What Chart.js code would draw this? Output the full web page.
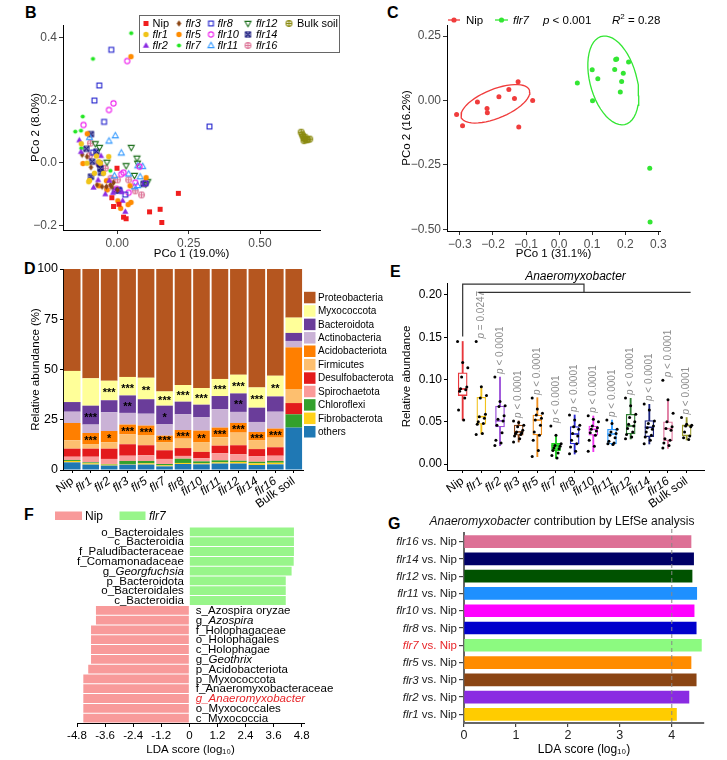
<!DOCTYPE html>
<html><head><meta charset="utf-8">
<script src="https://cdn.jsdelivr.net/npm/chart.js@4.4.1/dist/chart.umd.min.js"></script>
<style>
html,body{margin:0;padding:0;background:#fff;}
body{width:727px;height:760px;position:relative;overflow:hidden;font-family:"Liberation Sans",Arial,sans-serif;}
canvas{position:absolute;}
.lt{position:absolute;font-weight:bold;font-size:16px;color:#000;line-height:16px;}
</style></head><body>
<div class="lt" style="left:25px;top:5px">B</div>
<div class="lt" style="left:387px;top:5px">C</div>
<div class="lt" style="left:24px;top:261px">D</div>
<div class="lt" style="left:390px;top:264px">E</div>
<div class="lt" style="left:24px;top:507px">F</div>
<div class="lt" style="left:388px;top:516px">G</div>
<canvas id="cB" width="360" height="265" style="left:0;top:0"></canvas>
<canvas id="cC" width="367" height="265" style="left:360px;top:0"></canvas>
<canvas id="cD" width="400" height="250" style="left:0;top:258px"></canvas>
<canvas id="cE" width="367" height="250" style="left:360px;top:258px"></canvas>
<canvas id="cF" width="360" height="255" style="left:0;top:505px"></canvas>
<canvas id="cG" width="367" height="255" style="left:360px;top:505px"></canvas>
<script>
// ---------------- DATA ----------------
// Panel B: PCoA (PCo1, PCo2)
const bNip  = [[0.214,-0.097],[0.113,-0.156],[0.150,-0.148],[0.156,-0.190],[-0.001,-0.017],[-0.019,-0.111],[-0.013,-0.139],[0.006,-0.132],[0.022,-0.173],[0.031,-0.178]];
const bFlr1 = [[-0.080,-0.033],[-0.097,-0.056],[-0.065,0.004],[-0.100,-0.060],[-0.073,0.022],[-0.048,-0.033],[-0.106,-0.001],[-0.126,0.061],[-0.059,-0.001],[-0.030,0.020]];
const bFlr2 = [[-0.133,0.073],[-0.127,0.036],[-0.057,0.023],[-0.067,-0.054],[-0.083,-0.078],[-0.042,-0.099],[-0.028,-0.056],[0.016,-0.092],[0.019,-0.120],[0.028,-0.155],[-0.015,-0.095]];
const bFlr3 = [[-0.123,0.026],[-0.106,0.020],[-0.092,-0.014],[-0.071,-0.070],[-0.053,-0.076],[-0.038,-0.076],[-0.024,-0.070],[-0.013,-0.063],[-0.019,-0.076],[0.001,-0.086]];
const bFlr5 = [[0.048,0.339],[-0.105,0.093],[-0.120,-0.002],[-0.064,-0.073],[-0.036,-0.086],[-0.038,-0.057],[0.002,-0.121],[0.012,-0.145],[0.038,-0.133],[0.048,-0.126],[0.101,-0.047],[0.045,-0.073]];
const bFlr7 = [[0.049,0.414],[-0.085,0.332],[-0.121,0.148],[-0.147,0.100],[-0.127,0.103],[-0.126,0.047],[-0.024,-0.025]];
const bFlr8 = [[-0.021,0.361],[-0.063,0.247],[-0.080,0.199],[-0.046,0.131],[0.323,0.116],[-0.085,0.033],[0.008,-0.088],[0.028,-0.101],[0.099,-0.065]];
const bFlr10= [[0.035,0.325],[-0.013,0.190],[-0.029,0.169],[-0.118,0.121],[-0.002,-0.083],[0.014,-0.036],[0.022,-0.031],[0.040,-0.095],[0.063,-0.063],[0.078,-0.012],[0.098,-0.065]];
const bFlr11= [[-0.097,0.082],[-0.029,0.070],[-0.007,0.087],[0.014,0.032],[-0.010,-0.041],[0.040,-0.035],[0.060,-0.076],[0.080,-0.044],[0.089,-0.011],[0.072,-0.009],[0.071,-0.072]];
const bFlr12= [[-0.077,0.061],[-0.062,0.049],[-0.036,0.002],[0.049,0.049],[0.031,-0.009],[0.069,0.015],[0.071,-0.001],[0.060,-0.040],[0.107,-0.060],[0.100,-0.067]];
const bFlr14= [[-0.092,0.092],[-0.108,0.045],[-0.073,0.036],[-0.088,0.004],[-0.062,-0.003],[-0.059,-0.017],[-0.057,-0.031],[-0.092,-0.044],[-0.007,-0.088],[0.092,-0.067],[0.005,-0.086]];
const bFlr16= [[-0.097,0.023],[-0.094,0.063],[-0.065,-0.003],[-0.042,-0.017],[-0.034,-0.081],[0.001,-0.054],[-0.022,-0.049],[0.040,-0.054],[0.063,-0.089],[0.085,-0.102]];
const bBulk = [[0.644,0.098],[0.648,0.090],[0.651,0.084],[0.655,0.077],[0.654,0.071],[0.661,0.074],[0.667,0.074],[0.674,0.076],[0.658,0.082]];
const bXTicks = [0, 0.25, 0.5];
const bYTicks = [-0.2, 0, 0.2, 0.4];

// Panel C: PCoA Nip vs flr7
const cNip  = [[-0.310,-0.055],[-0.292,-0.098],[-0.247,-0.006],[-0.218,-0.031],[-0.217,-0.048],[-0.182,0.014],[-0.152,0.043],[-0.135,0.008],[-0.124,0.073],[-0.122,-0.103],[-0.080,0.000]];
const cFlr7 = [[0.055,0.068],[0.100,0.119],[0.101,-0.001],[0.117,0.084],[0.168,0.120],[0.171,0.159],[0.174,0.161],[0.185,0.033],[0.189,0.074],[0.194,0.106],[0.210,0.149],[0.274,-0.263],[0.275,-0.472]];
const cXTicks = [-0.3,-0.2,-0.1,0,0.1,0.2,0.3];
const cYTicks = [-0.5,-0.25,0,0.25];
const cEllipseLevel = 0.68;

// Panel D: relative abundance (%) by phylum
const dCats = ['Nip','flr1','flr2','flr3','flr5','flr7','flr8','flr10','flr11','flr12','flr14','flr16','Bulk soil'];
const dOthers   = [3.8,2.7,2.2,2.7,2.7,1.8,3.0,2.8,3.2,3.2,2.5,2.8,21.1];
const dFibro    = [0.7,0.6,0.5,0.3,0.6,0.5,0.5,0.5,0.6,0.8,0.8,0.8,0];
const dChloro   = [0.5,0.5,0.3,1.5,1.2,0.7,2.1,1.0,1.0,0.6,0.8,0.9,6.6];
const dSpiro    = [1.6,2.8,2.5,2.6,2.8,2.5,1.4,1.5,3.5,3.2,2.7,2.6,0];
const dDesulfo  = [4.0,4.0,5.1,5.7,5.0,4.3,3.9,3.2,3.8,4.5,3.6,4.2,5.6];
const dFirmi    = [4.2,2.3,3.2,4.9,5.1,4.1,4.7,4.9,4.2,6.3,4.5,4.8,7.0];
const dAcido    = [8.6,5.5,5.6,4.9,4.7,3.2,4.3,5.7,4.8,4.8,4.0,4.5,20.7];
const dActino   = [5.6,4.2,9.3,5.8,5.9,5.6,7.8,6.6,9.1,5.5,5.0,8.4,3.2];
const dBacter   = [4.8,9.4,6.0,8.7,7.2,9.3,6.3,6.3,6.6,9.2,7.1,7.6,4.0];
const dMyxo     = [15.5,13.6,9.7,9.2,10.7,7.1,8.3,8.3,8.5,9.3,10.1,10.3,7.6];
const dProteo   = [50.7,54.4,55.6,53.7,54.1,60.9,57.7,59.2,54.7,52.6,58.9,53.1,24.2];
const dStarMyxo  = ['','','***','***','**','***','***','***','***','***','***','**',''];
const dStarBact  = ['','***','','**','','*','','','','**','','',''];
const dStarAcido = ['','***','*','***','***','***','***','**','***','***','***','***',''];

// Panel E: Anaeromyxobacter relative abundance
const eCats = dCats;
const eQ1  = [0.081,0.047,0.0438,0.034,0.0343,0.0158,0.0237,0.034,0.0237,0.0355,0.0323,0.0276,0.0335];
const eMed = [0.0888,0.056,0.051,0.038,0.052,0.0217,0.0355,0.041,0.0355,0.045,0.0434,0.0418,0.0454];
const eQ3  = [0.108,0.079,0.0686,0.046,0.058,0.0245,0.0442,0.045,0.041,0.0588,0.0513,0.050,0.046];
const eLo  = [0.052,0.0355,0.0217,0.026,0.0087,0.0067,0.0118,0.0146,0.0225,0.0296,0.0237,0.0185,0.0284];
const eHi  = [0.145,0.0915,0.103,0.051,0.0785,0.034,0.058,0.0568,0.052,0.0777,0.0706,0.0765,0.055];
const ePts = [
 [0.145,0.120,0.114,0.103,0.091,0.089,0.088,0.086,0.078,0.064,0.052],
 [0.145,0.0915,0.081,0.078,0.059,0.056,0.054,0.050,0.048,0.047,0.036,0.035],
 [0.103,0.074,0.069,0.068,0.057,0.053,0.051,0.046,0.037,0.028,0.025,0.022],
 [0.051,0.049,0.046,0.044,0.040,0.038,0.037,0.036,0.035,0.033,0.030,0.026],
 [0.078,0.065,0.060,0.058,0.054,0.052,0.046,0.038,0.034,0.028,0.016,0.009],
 [0.045,0.034,0.024,0.022,0.021,0.019,0.018,0.016,0.013,0.010,0.007],
 [0.058,0.052,0.046,0.044,0.041,0.036,0.033,0.028,0.024,0.020,0.015,0.012],
 [0.057,0.053,0.050,0.045,0.043,0.041,0.039,0.037,0.034,0.028,0.021,0.015],
 [0.052,0.048,0.041,0.038,0.036,0.034,0.031,0.027,0.025,0.024,0.023],
 [0.078,0.069,0.059,0.055,0.050,0.047,0.045,0.042,0.038,0.035,0.032,0.030],
 [0.071,0.064,0.051,0.048,0.045,0.043,0.041,0.038,0.034,0.032,0.028,0.024],
 [0.099,0.076,0.060,0.050,0.044,0.042,0.040,0.030,0.028,0.025,0.022,0.019],
 [0.055,0.047,0.046,0.045,0.044,0.038,0.033,0.031,0.029]
];
const eP = ['','p = 0.0247','p < 0.0001','p < 0.0001','p < 0.0001','p < 0.0001','p < 0.0001','p < 0.0001','p < 0.0001','p < 0.0001','p < 0.0001','p < 0.0001','p < 0.0001'];
const eYTicks = [0,0.05,0.10,0.15,0.20];

// Panel F: LEfSe LDA scores (Nip vs flr7)
const fLabels = ['o_Bacteroidales','c_Bacteroidia','f_Paludibacteraceae','f_Comamonadaceae','g_Georgfuchsia','p_Bacteroidota','o_Bacteroidales','c_Bacteroidia',
  's_Azospira oryzae','g_Azospira','f_Holophagaceae','o_Holophagales','c_Holophagae','g_Geothrix','p_Acidobacteriota','p_Myxococcota','f_Anaeromyxobacteraceae','g_Anaeromyxobacter','o_Myxococcales','c_Myxococcia'];
const fVals = [4.47,4.47,4.47,4.46,4.37,4.12,4.12,4.12,-3.99,-3.99,-4.2,-4.2,-4.2,-4.2,-4.32,-4.53,-4.53,-4.53,-4.53,-4.53];
const fItalic = [0,0,0,0,1,0,0,0,0,1,0,0,0,1,0,0,0,1,0,0];
const fHighlight = 'g_Anaeromyxobacter';
const fTicks = [-4.8,-3.6,-2.4,-1.2,0,1.2,2.4,3.6,4.8];

// Panel G: Anaeromyxobacter LDA by mutant
const gMut  = ['flr16','flr14','flr12','flr11','flr10','flr8','flr7','flr5','flr3','flr2','flr1'];
const gVals = [4.37,4.42,4.39,4.48,4.43,4.47,4.57,4.37,4.47,4.33,4.09];
const gColors = ['#dd7096','#000066','#005200','#1e90ff','#ff00ff','#0000cc','#8cfa80','#ff8c00','#8b4513','#8a2be2','#ffcc00'];
const gThreshold = 4;

// ---------------- HELPERS ----------------
const FF = '"Liberation Sans", Arial, sans-serif';
Chart.defaults.font.family = FF;
Chart.defaults.color = '#000';
const fmt = (v,d) => (v < 0 ? '\u2212' + Math.abs(v).toFixed(d) : Math.abs(v).toFixed(d));
const base = {animation:false, responsive:false, events:[], devicePixelRatio:1,
  plugins:{legend:{display:false}, tooltip:{enabled:false}}};

function marker(shape, color){
  const s = 11, c = document.createElement('canvas'); c.width = s; c.height = s;
  const g = c.getContext('2d'), m = s/2;
  g.fillStyle = color; g.strokeStyle = color; g.lineWidth = 1.1;
  g.beginPath();
  switch(shape){
    case 'sq': g.fillRect(m-2.5,m-2.5,5,5); break;
    case 'circ': g.arc(m,m,2.7,0,Math.PI*2); g.fill(); break;
    case 'dot': g.arc(m,m,2.1,0,Math.PI*2); g.fill(); break;
    case 'tri': g.moveTo(m,m-3.3); g.lineTo(m+3.1,m+2.2); g.lineTo(m-3.1,m+2.2); g.closePath(); g.fill(); break;
    case 'diam': g.moveTo(m,m-3.2); g.lineTo(m+2.3,m); g.lineTo(m,m+3.2); g.lineTo(m-2.3,m); g.closePath(); g.fill(); break;
    case 'osq': g.strokeRect(m-2.4,m-2.4,4.8,4.8); break;
    case 'ocirc': g.arc(m,m,2.6,0,Math.PI*2); g.stroke(); break;
    case 'otri': g.moveTo(m,m-3.2); g.lineTo(m+3,m+2.1); g.lineTo(m-3,m+2.1); g.closePath(); g.stroke(); break;
    case 'oitri': g.moveTo(m,m+3.2); g.lineTo(m+3,m-2.1); g.lineTo(m-3,m-2.1); g.closePath(); g.stroke(); break;
    case 'sqx': g.strokeRect(m-2.5,m-2.5,5,5); g.moveTo(m-2.5,m-2.5); g.lineTo(m+2.5,m+2.5); g.moveTo(m+2.5,m-2.5); g.lineTo(m-2.5,m+2.5); g.stroke(); break;
    case 'cplus': g.arc(m,m,2.9,0,Math.PI*2); g.moveTo(m-2.9,m); g.lineTo(m+2.9,m); g.moveTo(m,m-2.9); g.lineTo(m,m+2.9); g.stroke(); break;
  }
  return c;
}
function axisCommon(extra){
  return Object.assign({
    grid:{display:true, drawOnChartArea:false, drawTicks:true, tickLength:4, color:'#333'},
    border:{display:true, color:'#000', width:1}
  }, extra);
}

// ---------------- PANEL B ----------------
const bGroups = [
  {label:'Nip',data:bNip,shape:'sq',color:'#f01e1e',it:false},
  {label:'flr1',data:bFlr1,shape:'circ',color:'#f0c419',it:true},
  {label:'flr2',data:bFlr2,shape:'tri',color:'#8b2be2',it:true},
  {label:'flr3',data:bFlr3,shape:'diam',color:'#8b4513',it:true},
  {label:'flr5',data:bFlr5,shape:'circ',color:'#ff8c00',it:true},
  {label:'flr7',data:bFlr7,shape:'dot',color:'#22e622',it:true},
  {label:'flr8',data:bFlr8,shape:'osq',color:'#2323cc',it:true},
  {label:'flr10',data:bFlr10,shape:'ocirc',color:'#ee22ee',it:true},
  {label:'flr11',data:bFlr11,shape:'otri',color:'#3399ff',it:true},
  {label:'flr12',data:bFlr12,shape:'oitri',color:'#1a6e1a',it:true},
  {label:'flr14',data:bFlr14,shape:'sqx',color:'#14147a',it:true},
  {label:'flr16',data:bFlr16,shape:'cplus',color:'#dd7799',it:true},
  {label:'Bulk soil',data:bBulk,shape:'cplus',color:'#8a8a10',it:false}
];
const bLegend = {id:'bLegend', afterDraw(chart){
  const ctx = chart.ctx; ctx.save();
  ctx.fillStyle = '#fff'; ctx.fillRect(139.5,15.5,200,37);
  ctx.strokeStyle = '#666'; ctx.lineWidth = 1; ctx.strokeRect(139.5,15.5,200,37);
  const colX = [146,179,211,248,289], rowY = [23.5,34.5,45.5];
  chart.data.datasets.forEach((ds,i) => {
    const c = Math.floor(i/3), r = i%3, img = ds.pointStyle;
    ctx.drawImage(img, colX[c]-img.width/2, rowY[r]-img.height/2);
    ctx.font = (ds._it ? 'italic ' : '') + '11px ' + FF;
    ctx.fillStyle = '#000'; ctx.textBaseline = 'middle'; ctx.textAlign = 'left';
    ctx.fillText(ds.label, colX[c] + (c >= 3 ? 8 : 6.5), rowY[r] + 0.5);
  });
  ctx.restore();
}};
new Chart(document.getElementById('cB'), {
  type:'scatter',
  data:{datasets: bGroups.map(g => ({label:g.label, _it:g.it, data:g.data.map(p => ({x:p[0], y:p[1]})),
     pointStyle:marker(g.shape,g.color), pointRadius:5}))},
  options: Object.assign({}, base, {
    layout:{padding:{left:25,right:40,top:25,bottom:0}},
    scales:{
      x: axisCommon({type:'linear', min:-0.19, max:0.71,
        afterBuildTicks:s => { s.ticks = bXTicks.map(v => ({value:v})); },
        afterFit:s => { s.height = 35; },
        ticks:{callback:v => fmt(v,2), color:'#4d4d4d', font:{size:12}, padding:2},
        title:{display:true, text:'PCo 1 (19.0%)', font:{size:11.5}, color:'#000', padding:{top:0,bottom:4}}}),
      y: axisCommon({type:'linear', min:-0.214, max:0.44,
        afterBuildTicks:s => { s.ticks = bYTicks.map(v => ({value:v})); },
        afterFit:s => { s.width = 38; },
        ticks:{callback:v => fmt(v,1), color:'#4d4d4d', font:{size:12}, padding:2},
        title:{display:true, text:'PCo 2 (8.0%)', font:{size:11.5}, color:'#000', padding:{top:4,bottom:0}}})
    }
  }),
  plugins:[bLegend]
});

// ---------------- PANEL C ----------------
function trobEllipse(pts, level){
  const n = pts.length, nu = 5, p = 2;
  let w = new Array(n).fill(1);
  let loc = [0,0]; pts.forEach(q => { loc[0] += q[0]/n; loc[1] += q[1]/n; });
  let X = [];
  for (let it = 0; it < 25; it++){
    const w0 = w.slice();
    X = pts.map(q => [q[0]-loc[0], q[1]-loc[1]]);
    const sw = w.reduce((a,b) => a+b, 0);
    let a = 0, b = 0, c = 0;
    X.forEach((v,i) => { a += w[i]/sw*v[0]*v[0]; b += w[i]/sw*v[0]*v[1]; c += w[i]/sw*v[1]*v[1]; });
    const det = a*c - b*b;
    w = X.map(v => (nu+p)/(nu + (c*v[0]*v[0] - 2*b*v[0]*v[1] + a*v[1]*v[1])/det));
    const sw2 = w.reduce((s,x) => s+x, 0);
    loc = [0,0]; pts.forEach((q,i) => { loc[0] += w[i]*q[0]/sw2; loc[1] += w[i]*q[1]/sw2; });
    if (w.every((x,i) => Math.abs(x - w0[i]) < 0.01)) break;
  }
  let a = 0, b = 0, c = 0;
  X.forEach((v,i) => { a += w[i]*v[0]*v[0]/n; b += w[i]*v[0]*v[1]/n; c += w[i]*v[1]*v[1]/n; });
  const dfd = n - 1, qf = (dfd/2)*(Math.pow(1 - level, -2/dfd) - 1), r = Math.sqrt(2*qf);
  const r11 = Math.sqrt(a), r12 = b/r11, r22 = Math.sqrt(c - r12*r12);
  const out = [];
  for (let k = 0; k <= 51; k++){
    const t = k*2*Math.PI/51, u = Math.cos(t), v = Math.sin(t);
    out.push({x: loc[0] + r*u*r11, y: loc[1] + r*(u*r12 + v*r22)});
  }
  return out;
}
const C_RED = '#f03c3c', C_GREEN = '#33e633';
const cLegend = {id:'cLegend', afterDraw(chart){
  const ctx = chart.ctx; ctx.save();
  const y = 20;
  ctx.lineWidth = 1.3;
  [[88,100,C_RED],[135,148,C_GREEN]].forEach(([x1,x2,col]) => {
    ctx.strokeStyle = col; ctx.beginPath(); ctx.moveTo(x1,y); ctx.lineTo(x2,y); ctx.stroke();
    ctx.fillStyle = col; ctx.beginPath(); ctx.arc((x1+x2)/2, y, 2.6, 0, Math.PI*2); ctx.fill();
  });
  ctx.fillStyle = '#000'; ctx.textBaseline = 'middle'; ctx.textAlign = 'left';
  ctx.font = '11.5px ' + FF; ctx.fillText('Nip', 106, y+0.5);
  ctx.font = 'italic 11.5px ' + FF; ctx.fillText('flr7', 153, y+0.5);
  ctx.fillText('p', 183, y+0.5);
  const pw = ctx.measureText('p').width;
  ctx.font = '11.5px ' + FF; ctx.fillText(' < 0.001', 183 + pw, y+0.5);
  ctx.font = 'italic 11.5px ' + FF; ctx.fillText('R', 252, y+0.5);
  const rw = ctx.measureText('R').width;
  ctx.font = '8px ' + FF; ctx.fillText('2', 252 + rw, y-3.5);
  ctx.font = '11.5px ' + FF; ctx.fillText(' = 0.28', 252 + rw + 4.5, y+0.5);
  ctx.restore();
}};
new Chart(document.getElementById('cC'), {
  type:'scatter',
  data:{datasets:[
    {data:cNip.map(p => ({x:p[0],y:p[1]})), pointRadius:2.5, pointBackgroundColor:C_RED, pointBorderWidth:0},
    {data:cFlr7.map(p => ({x:p[0],y:p[1]})), pointRadius:2.5, pointBackgroundColor:C_GREEN, pointBorderWidth:0},
    {data:trobEllipse(cNip, cEllipseLevel), showLine:true, pointRadius:0, borderColor:C_RED, borderWidth:1.3, fill:false},
    {data:trobEllipse(cFlr7, cEllipseLevel), showLine:true, pointRadius:0, borderColor:C_GREEN, borderWidth:1.3, fill:false}
  ]},
  options: Object.assign({}, base, {
    layout:{padding:{left:36,right:67,top:25,bottom:0}},
    scales:{
      x: axisCommon({type:'linear', min:-0.339, max:0.305,
        afterBuildTicks:s => { s.ticks = cXTicks.map(v => ({value:v})); },
        afterFit:s => { s.height = 34; },
        ticks:{callback:v => fmt(v,1), color:'#4d4d4d', font:{size:12}, padding:2},
        title:{display:true, text:'PCo 1 (31.1%)', font:{size:11.5}, color:'#000', padding:{top:0,bottom:4}}}),
      y: axisCommon({type:'linear', min:-0.507, max:0.293,
        afterBuildTicks:s => { s.ticks = cYTicks.map(v => ({value:v})); },
        afterFit:s => { s.width = 51; },
        ticks:{callback:v => fmt(v,2), color:'#4d4d4d', font:{size:12}, padding:2},
        title:{display:true, text:'PCo 2 (16.2%)', font:{size:11.5}, color:'#000', padding:{top:4,bottom:0}}})
    }
  }),
  plugins:[cLegend]
});

// ---------------- PANEL D ----------------
const dSeries = [
  {label:'others', data:dOthers, color:'#1f78b4'},
  {label:'Fibrobacterota', data:dFibro, color:'#ffd21a'},
  {label:'Chloroflexi', data:dChloro, color:'#33a02c'},
  {label:'Spirochaetota', data:dSpiro, color:'#fb9a99'},
  {label:'Desulfobacterota', data:dDesulfo, color:'#e31a1c'},
  {label:'Firmicutes', data:dFirmi, color:'#fdbf6f'},
  {label:'Acidobacteriota', data:dAcido, color:'#ff7f00'},
  {label:'Actinobacteria', data:dActino, color:'#cab2d6'},
  {label:'Bacteroidota', data:dBacter, color:'#6a3d9a'},
  {label:'Myxococcota', data:dMyxo, color:'#ffff99'},
  {label:'Proteobacteria', data:dProteo, color:'#b5561f'}
];
const dPlugin = {id:'dExtra', afterDraw(chart){
  const ctx = chart.ctx; ctx.save();
  // stars
  ctx.fillStyle = '#000'; ctx.textAlign = 'center'; ctx.textBaseline = 'middle';
  ctx.font = 'bold 11px ' + FF;
  [[9,dStarMyxo],[8,dStarBact],[6,dStarAcido]].forEach(([di, stars]) => {
    const meta = chart.getDatasetMeta(di);
    stars.forEach((s,i) => { if (!s) return; const el = meta.data[i];
      ctx.fillText(s, el.x, (el.y + el.base)/2 + 2.5); });
  });
  // legend
  ctx.textAlign = 'left'; ctx.font = '10px ' + FF;
  const ds = chart.data.datasets.slice().reverse();
  ds.forEach((d,k) => {
    const yc = 39.5 + k*13.42;
    ctx.fillStyle = d.backgroundColor; ctx.fillRect(304, yc-5.7, 11.5, 11.5);
    ctx.fillStyle = '#000'; ctx.fillText(d.label, 318, yc+0.5);
  });
  ctx.restore();
}};
new Chart(document.getElementById('cD'), {
  type:'bar',
  data:{labels:dCats, datasets:dSeries.map(s => ({label:s.label, data:s.data, backgroundColor:s.color,
    borderWidth:0, barPercentage:0.9, categoryPercentage:1}))},
  options: Object.assign({}, base, {
    layout:{padding:{left:25,right:97,top:11,bottom:0}},
    scales:{
      x:{stacked:true, afterFit:s => { s.height = 38; },
        grid:{display:true, offset:false, drawOnChartArea:false, drawTicks:true, tickLength:3, color:'#000'},
        border:{display:true, color:'#000', width:1},
        ticks:{autoSkip:false, minRotation:35, maxRotation:35, padding:1, color:'#000',
          font:ctx => ({size:12, family:FF, style:(dCats[ctx.index]||'').startsWith('flr') ? 'italic' : 'normal'})}},
      y:{stacked:true, min:0, max:100, afterFit:s => { s.width = 38; },
        ticks:{stepSize:25, font:{size:12.5}, color:'#000', padding:2},
        grid:{display:true, drawOnChartArea:false, drawTicks:true, tickLength:3, color:'#000'},
        border:{display:true, color:'#000', width:1},
        title:{display:true, text:'Relative abundance (%)', font:{size:11.5}, color:'#000', padding:{top:4,bottom:0}}}
    }
  }),
  plugins:[dPlugin]
});

// ---------------- PANEL E ----------------
const eColors = ['#e8363b','#f2c21b','#9b4fd9','#8b4513','#f0901f','#22cc22','#2b2bd1','#ee33ee','#2f9bff','#2e7d32','#1a237e','#e07aa0','#9a9a2a'];
const eFill = eColors.map((c,i) => eCats[i] === 'flr7' ? '#44ee44' : '#ffffff');
const ePointData = [];
ePts.forEach((arr,i) => arr.forEach((v,k) => ePointData.push({x: i + (((k*5) % 11)/10 - 0.5)*0.55, y: v})));
const ePlugin = {id:'eExtra', afterDraw(chart){
  const ctx = chart.ctx, xs = chart.scales.x, ys = chart.scales.y; ctx.save();
  // p-values
  eP.forEach((txt,i) => {
    if (!txt) return;
    const yTop = ys.getPixelForValue(Math.max(...ePts[i])) - 3;
    ctx.save(); ctx.translate(xs.getPixelForValue(i), yTop); ctx.rotate(-Math.PI/2);
    ctx.fillStyle = '#8c8c8c'; ctx.textBaseline = 'middle'; ctx.textAlign = 'left';
    ctx.font = 'italic 10px ' + FF; ctx.fillText(txt[0], 0, 0);
    const w = ctx.measureText(txt[0]).width;
    ctx.font = '10px ' + FF; ctx.fillText(txt.slice(1), w, 0);
    ctx.restore();
  });
  // bracket
  const xN = xs.getPixelForValue(0), x1 = xs.getPixelForValue(1), x2 = xs.getPixelForValue(eCats.length-1);
  const xm = (x1 + x2)/2, yT = ys.getPixelForValue(0.2128), y2 = ys.getPixelForValue(0.2030), yN = ys.getPixelForValue(0.151);
  ctx.strokeStyle = '#333'; ctx.lineWidth = 1.2; ctx.beginPath();
  ctx.moveTo(xN, yN); ctx.lineTo(xN, yT); ctx.lineTo(xm, yT); ctx.lineTo(xm, y2);
  ctx.moveTo(x1 - 3, y2); ctx.lineTo(x2 + 4, y2); ctx.stroke();
  // title
  ctx.fillStyle = '#000'; ctx.font = 'italic 12px ' + FF; ctx.textAlign = 'center'; ctx.textBaseline = 'middle';
  ctx.fillText('Anaeromyxobacter', (chart.chartArea.left + chart.chartArea.right)/2, chart.chartArea.top - 6);
  ctx.restore();
}};
new Chart(document.getElementById('cE'), {
  type:'bar',
  data:{datasets:[
    {type:'scatter', order:0, data:ePointData, pointRadius:1.5, pointBackgroundColor:'#000', pointBorderWidth:0},
    {type:'scatter', order:1, data:eMed.map((v,i) => ({x:i, y:v})), pointStyle:'line', pointRadius:4.5,
      pointBorderColor:eColors, pointBorderWidth:1.6},
    {type:'bar', order:2, grouped:false, data:eCats.map((c,i) => ({x:i, y:[eQ1[i], eQ3[i]]})),
      backgroundColor:eFill, borderColor:eColors, borderWidth:1.3, borderSkipped:false, barThickness:9},
    {type:'bar', order:3, grouped:false, data:eCats.map((c,i) => ({x:i, y:[eLo[i], eHi[i]]})),
      backgroundColor:eColors, borderWidth:0, barThickness:1.2}
  ]},
  options: Object.assign({}, base, {
    layout:{padding:{left:36,right:23,top:25,bottom:0}},
    scales:{
      x:{type:'linear', min:-0.84, max:12.93, offset:false,
        afterBuildTicks:s => { s.ticks = eCats.map((c,i) => ({value:i})); },
        afterFit:s => { s.height = 38; },
        grid:{display:true, offset:false, drawOnChartArea:false, drawTicks:true, tickLength:3, color:'#000'},
        border:{display:true, color:'#000', width:1},
        ticks:{autoSkip:false, minRotation:35, maxRotation:35, padding:1, color:'#000',
          callback:v => eCats[v],
          font:ctx => ({size:12, family:FF, style:(eCats[ctx.index]||'').startsWith('flr') ? 'italic' : 'normal'})}},
      y:{type:'linear', min:-0.0071, max:0.2142,
        afterBuildTicks:s => { s.ticks = eYTicks.map(v => ({value:v})); },
        afterFit:s => { s.width = 51; },
        ticks:{callback:v => v.toFixed(2), font:{size:12}, color:'#000', padding:2},
        grid:{display:true, drawOnChartArea:false, drawTicks:true, tickLength:3, color:'#000'},
        border:{display:true, color:'#000', width:1},
        title:{display:true, text:'Relative abundance', font:{size:11.5}, color:'#000', padding:{top:4,bottom:0}}}
    }
  }),
  plugins:[ePlugin]
});

// ---------------- PANEL F ----------------
const F_PINK = '#f89a9a', F_GREEN = '#98f58a';
const fPlugin = {id:'fExtra', afterDraw(chart){
  const ctx = chart.ctx, xs = chart.scales.x; ctx.save();
  // legend
  ctx.fillStyle = F_PINK; ctx.fillRect(55, 6.5, 27, 8.5);
  ctx.fillStyle = F_GREEN; ctx.fillRect(119.5, 6.5, 26, 8.5);
  ctx.fillStyle = '#000'; ctx.textBaseline = 'middle'; ctx.textAlign = 'left';
  ctx.font = '12px ' + FF; ctx.fillText('Nip', 85, 11.5);
  ctx.font = 'italic 12px ' + FF; ctx.fillText('flr7', 149, 11.5);
  // bar labels
  const meta = chart.getDatasetMeta(0), x0 = xs.getPixelForValue(0);
  const N = '11.5px ' + FF, I = 'italic 11.5px ' + FF;
  fLabels.forEach((lab,i) => {
    const y = meta.data[i].y + 0.5;
    const hi = lab === fHighlight;
    let parts;
    if (hi) parts = [[lab, I]];
    else if (fItalic[i]) parts = [[lab.slice(0,2), N], [lab.slice(2), I]];
    else parts = [[lab, N]];
    let total = 0; parts.forEach(p => { ctx.font = p[1]; total += ctx.measureText(p[0]).width; });
    let x = fVals[i] > 0 ? x0 - 5.5 - total : x0 + 6.5;
    ctx.fillStyle = hi ? '#e8262a' : '#000'; ctx.textAlign = 'left';
    parts.forEach(p => { ctx.font = p[1]; ctx.fillText(p[0], x, y); x += ctx.measureText(p[0]).width; });
  });
  ctx.restore();
}};
new Chart(document.getElementById('cF'), {
  type:'bar',
  data:{labels:fLabels, datasets:[{data:fVals, backgroundColor:fVals.map(v => v > 0 ? F_GREEN : F_PINK),
    borderWidth:0, barPercentage:1, categoryPercentage:0.9}]},
  options: Object.assign({}, base, {
    indexAxis:'y',
    layout:{padding:{left:77,right:56,top:22,bottom:0}},
    scales:{
      y:{display:false},
      x:{type:'linear', min:-4.8, max:4.9,
        afterBuildTicks:s => { s.ticks = fTicks.map(v => ({value:v})); },
        afterFit:s => { s.height = 37; },
        ticks:{callback:v => v === 0 ? '0' : v.toFixed(1), font:{size:11.5}, color:'#000', padding:2},
        grid:{display:true, drawOnChartArea:false, drawTicks:true, tickLength:4, color:'#000'},
        border:{display:true, color:'#000', width:1},
        title:{display:true, text:'LDA score (log\u2081\u2080)', font:{size:11.5}, color:'#000', padding:{top:0,bottom:3}}}
    }
  }),
  plugins:[fPlugin]
});

// ---------------- PANEL G ----------------
const gPlugin = {id:'gExtra', afterDatasetsDraw(chart){
  const ctx = chart.ctx, xs = chart.scales.x, ys = chart.scales.y, ca = chart.chartArea; ctx.save();
  // dashed threshold line
  const xt = xs.getPixelForValue(gThreshold);
  ctx.strokeStyle = '#888'; ctx.lineWidth = 1; ctx.setLineDash([4,3]);
  ctx.beginPath(); ctx.moveTo(xt, ca.top - 4); ctx.lineTo(xt, ca.bottom); ctx.stroke(); ctx.setLineDash([]);
  // y labels
  ctx.textBaseline = 'middle'; ctx.textAlign = 'left';
  gMut.forEach((m,i) => {
    const y = ys.getPixelForValue(i) + 0.5, red = m === 'flr7';
    ctx.font = '11.5px ' + FF; const w2 = ctx.measureText(' vs. Nip').width;
    ctx.font = 'italic 11.5px ' + FF; const w1 = ctx.measureText(m).width;
    const xr = ca.left - 7;
    ctx.fillStyle = red ? '#e8262a' : '#222';
    ctx.fillText(m, xr - w1 - w2, y);
    ctx.font = '11.5px ' + FF; ctx.fillText(' vs. Nip', xr - w2, y);
  });
  // title
  ctx.font = 'italic 12px ' + FF; const t1 = 'Anaeromyxobacter', w1 = ctx.measureText(t1).width;
  ctx.font = '12px ' + FF; const t2 = ' contribution by LEfSe analysis', w2 = ctx.measureText(t2).width;
  const x0 = 202 - (w1 + w2)/2;
  ctx.fillStyle = '#111';
  ctx.font = 'italic 12px ' + FF; ctx.fillText(t1, x0, 17);
  ctx.font = '12px ' + FF; ctx.fillText(t2, x0 + w1, 17);
  ctx.restore();
}};
new Chart(document.getElementById('cG'), {
  type:'bar',
  data:{labels:gMut.map(m => m + ' vs. Nip'), datasets:[{data:gVals, backgroundColor:gColors, borderWidth:0, barThickness:12}]},
  options: Object.assign({}, base, {
    indexAxis:'y',
    layout:{padding:{left:0,right:23,top:28,bottom:0}},
    scales:{
      y:{afterFit:s => { s.width = 104; }, ticks:{display:false},
        grid:{display:true, offset:false, drawOnChartArea:false, drawTicks:true, tickLength:5, color:'#444', lineWidth:1.2},
        border:{display:true, color:'#666', width:2}},
      x:{type:'linear', min:0, max:4.62,
        afterBuildTicks:s => { s.ticks = [0,1,2,3,4].map(v => ({value:v})); },
        afterFit:s => { s.height = 37; },
        ticks:{font:{size:12.5}, color:'#222', padding:1},
        grid:{display:true, drawOnChartArea:false, drawTicks:true, tickLength:4, color:'#444', lineWidth:1.2},
        border:{display:true, color:'#666', width:2},
        title:{display:true, text:'LDA score (log\u2081\u2080)', font:{size:12}, color:'#000', padding:{top:0,bottom:3}}}
    }
  }),
  plugins:[gPlugin]
});
</script>
</body></html>
